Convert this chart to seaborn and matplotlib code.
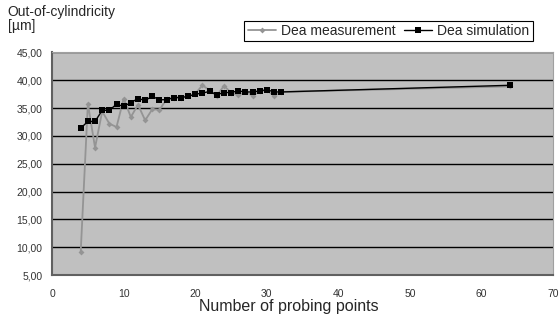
import pandas as pd
import matplotlib
matplotlib.use("Agg")
import matplotlib.pyplot as plt
from matplotlib.ticker import FuncFormatter
import seaborn as sns

points = [4, 5, 6, 7, 8, 9, 10, 11, 12, 13, 14, 15, 16, 17, 18, 19, 20,
          21, 22, 23, 24, 25, 26, 27, 28, 29, 30, 31, 32, 64]
measurement = [9.2, 35.8, 27.9, 34.4, 32.2, 31.6, 36.7, 33.4, 35.6, 32.8,
               34.8, 34.7, 36.6, 36.8, 36.9, 37.2, 37.6, 39.1, 38.2, 37.2,
               39.0, 37.8, 37.3, 38.0, 37.2, 38.0, 38.2, 37.2, 37.9, 38.9]
simulation = [31.4, 32.6, 32.6, 34.6, 34.6, 35.7, 35.3, 36.0, 36.7, 36.4,
              37.1, 36.5, 36.5, 36.9, 36.9, 37.1, 37.5, 37.7, 38.0, 37.4,
              37.8, 37.8, 38.1, 37.9, 37.9, 38.1, 38.3, 37.9, 37.9, 39.1]

df = pd.DataFrame({'points': points, 'Dea measurement': measurement,
                   'Dea simulation': simulation})

sns.set_style('white')
plt.rcParams['font.family'] = ['Liberation Sans', 'DejaVu Sans']

fig = plt.figure(figsize=(5.6, 3.23), dpi=100)
ax = fig.add_axes([0.093, 0.1486, 0.895, 0.689])
ax.set_facecolor('#C0C0C0')

sns.lineplot(x='points', y='Dea measurement', data=df, ax=ax, color='#949494',
             lw=1.3, marker='D', markersize=3, markeredgewidth=0,
             label='Dea measurement', zorder=3)
sns.lineplot(x='points', y='Dea simulation', data=df, ax=ax, color='black',
             lw=1, marker='s', markersize=5, markeredgewidth=0,
             label='Dea simulation', zorder=4)

ax.set_xlim(0, 70)
ax.set_ylim(5, 45)
ax.set_xticks(range(0, 71, 10))
ax.set_yticks(range(5, 46, 5))
ax.yaxis.set_major_formatter(FuncFormatter(lambda v, p: f'{v:.2f}'.replace('.', ',')))
for y in range(10, 46, 5):
    ax.axhline(y, color='black', lw=1, zorder=1)

for s in ['top', 'right']:
    ax.spines[s].set_color('#A0A0A0')
    ax.spines[s].set_linewidth(0.8)
for s in ['left', 'bottom']:
    ax.spines[s].set_color('#606060')
    ax.spines[s].set_linewidth(1.5)
ax.tick_params(axis='both', direction='out', length=4, width=1,
               color='black', labelsize=7.5, labelcolor='#333333', pad=3)
ax.tick_params(axis='x', pad=6)

ax.set_xlabel('Number of probing points', fontsize=11.5)
ax.xaxis.set_label_coords(0.473, -0.11)
ax.set_ylabel('')
fig.text(0.014, 0.985, 'Out-of-cylindricity\n[µm]', fontsize=10,
         va='top', ha='left', linespacing=1.0)

ax.get_legend().remove()
handles, labels = ax.get_legend_handles_labels()
leg = fig.legend(handles, labels, ncol=2, loc='center',
                 bbox_to_anchor=(0.694, 1 - 31 / 323),
                 bbox_transform=fig.transFigure, frameon=True, fancybox=False,
                 edgecolor='black', framealpha=1, fontsize=10, handlelength=2.0,
                 handletextpad=0.4, columnspacing=0.6, borderpad=0.25,
                 borderaxespad=0)
leg.get_frame().set_linewidth(0.8)

fig.savefig('out.png', dpi=100)
